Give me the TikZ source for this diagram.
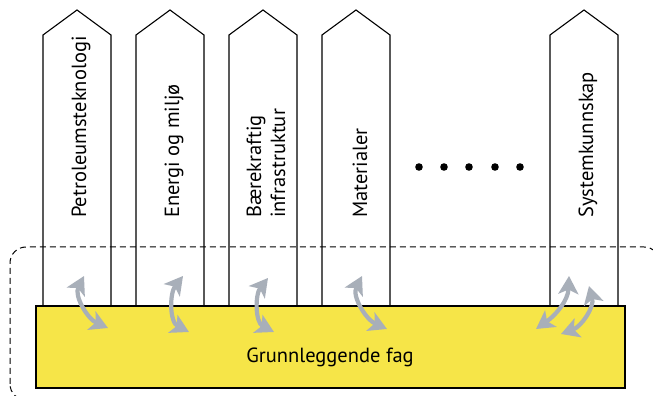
\documentclass[tikz,border=0pt]{standalone}
\usepackage{fontspec}
\usepackage{tikz, xcolor}
\usetikzlibrary{arrows.meta}
\setmainfont{PT Sans}

\definecolor{baseyellow}{RGB}{246,229,72}
\definecolor{linkgray}{RGB}{168,175,185}

\begin{document}
\begin{tikzpicture}[x=1pt,y=1pt,
  pillar/.style={draw=black, fill=white, line width=1.1},
  collabel/.style={rotate=90, anchor=west, inner sep=0, align=left, font=\fontsize{20.5}{24}\selectfont},
  link/.style={<->, >={Stealth[length=18,width=20,inset=4.5]}, line width=4.2, color=linkgray},
  frame/.style={dashed, dash pattern=on 6 off 4, line width=1, rounded corners=16}]
\path[use as bounding box, clip] (0,0) rectangle (653,396);
% pillars
\foreach \cx in {77,170,263,356,584}
  \draw[pillar] (\cx-34,90) -- (\cx-34,361) -- (\cx,386) -- (\cx+34,361) -- (\cx+34,90) -- cycle;
\node[collabel] (petro) at (81,178) {Petroleumsteknologi};
\node[collabel] (energi) at (174,178) {Energi og miljø};
\node[collabel] (infra) at (266,178) {Bærekraftig\\infrastruktur};
\node[collabel] (mat) at (360,178) {Materialer};
\node[collabel] (system) at (588,178) {Systemkunnskap};
\foreach \dx in {419,444,469,495,520}
  \fill (\dx,229) circle (3.8);
% dashed frame and base
\draw[frame] (10,-4) rectangle (660,149);
\draw[fill=baseyellow, draw=black, line width=1.1] (36,8) rectangle (625,90);
\node[font=\fontsize{20.5}{24}\selectfont] (base) at (330,39) {Grunnleggende fag};
% arrows
\draw[link] (84,120) to[out=-117, in=156] (108,68);
\draw[link] (183,120) to[out=-128, in=153] (189,64);
\draw[link] (268,118) to[out=-128, in=153] (274,64);
\draw[link] (362,120) to[out=-117, in=156] (387,67);
\draw[link] (569,120) to[out=-92, in=35] (536,67);
\draw[link] (589,110) to[out=-75, in=20] (561,62);
\end{tikzpicture}
\end{document}
